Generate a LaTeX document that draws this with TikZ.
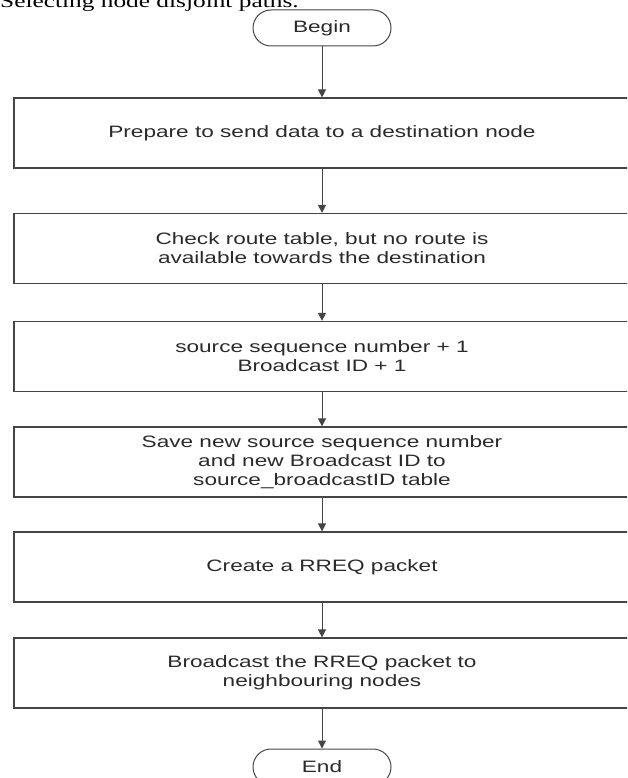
\documentclass[tikz,border=0pt]{standalone}
\usepackage{fontspec}
\setmainfont{Liberation Sans}[FakeStretch=1.37]
\newfontfamily\captionfont{Liberation Serif}[FakeStretch=1.37]
\usetikzlibrary{arrows.meta}
\usepackage{xcolor}
\definecolor{lineGray}{HTML}{454545}
\definecolor{textGray}{HTML}{2A2A2A}

\begin{document}
\begin{tikzpicture}[%
    x=1pt, y=-1pt,
    process/.style={
      rectangle,
      draw=lineGray,
      line width=1.2pt,
      text=textGray,
      minimum width=616pt,
      minimum height=70pt,
      align=center,
      font=\fontsize{16.5}{19}\selectfont
    },
    terminal/.style={
      rectangle,
      rounded corners=18pt,
      draw=lineGray,
      line width=1pt,
      text=textGray,
      minimum width=138pt,
      minimum height=36pt,
      font=\fontsize{16.5}{19}\selectfont
    },
    flow/.style={
      draw=lineGray,
      line width=1pt,
      -{Triangle[length=8pt,width=8pt]}
    }
  ]

    % Page area
    \useasboundingbox (0,0) rectangle (627,778);
    \clip (0,0) rectangle (627,778);

    \draw (0,8) node[anchor=base west, inner sep=0pt,
                     font=\captionfont\fontsize{18.5}{21}\selectfont] (T) {Selecting node disjoint paths.}
          (322,28)    node[terminal] (Begin) {Begin}
          (322,133)   node[process]  (A) {Prepare to send data to a destination node}
          (322,248.5) node[process]  (B) {Check route table, but no route is\\available towards the destination}
          (322,356.5) node[process]  (C) {source sequence number + 1\\Broadcast ID + 1}
          (322,462)   node[process]  (D) {Save new source sequence number\\and new Broadcast ID to\\source\_broadcastID table}
          (322,567)   node[process]  (E) {Create a RREQ packet}
          (322,673)   node[process]  (F) {Broadcast the RREQ packet to\\neighbouring nodes}
          (322,767)   node[terminal] (End) {End};

    \draw[flow] (Begin) -- (A);
    \draw[flow] (A) -- (B);
    \draw[flow] (B) -- (C);
    \draw[flow] (C) -- (D);
    \draw[flow] (D) -- (E);
    \draw[flow] (E) -- (F);
    \draw[flow] (F) -- (End);
\end{tikzpicture}
\end{document}
